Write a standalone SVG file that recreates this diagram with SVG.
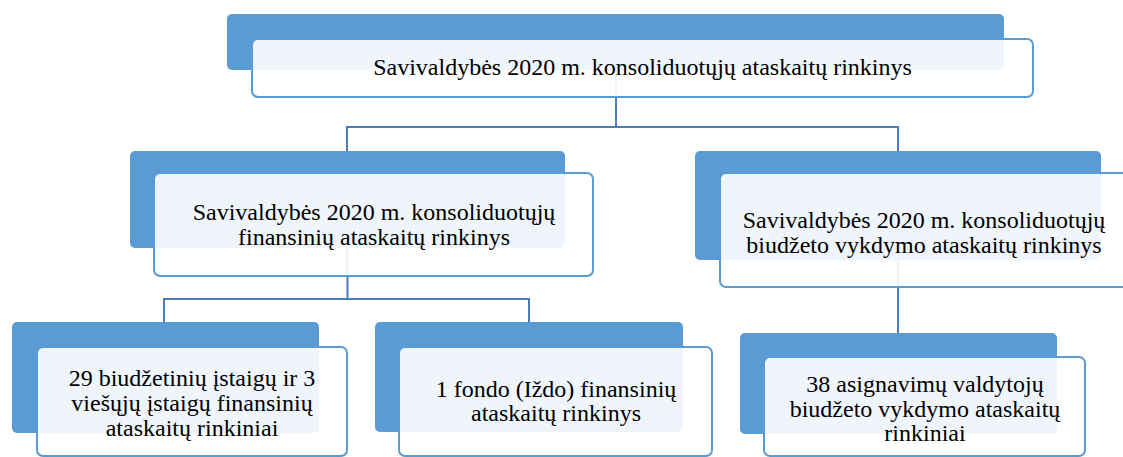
<svg xmlns="http://www.w3.org/2000/svg" width="1123" height="457" viewBox="0 0 1123 457">
<style>
.back{fill:#5B9BD5;}
.front{fill:#FFFFFF;fill-opacity:0.9;stroke:#5B9BD5;stroke-width:2;}
.conn{fill:none;stroke:#4A7EBB;stroke-width:2;}
.t{font-family:"Liberation Serif","Times New Roman",serif;font-size:24px;fill:#000;text-anchor:middle;}
</style>
<rect width="1123" height="457" fill="#FFFFFF"/>
<g id="connectors">
<path class="conn" d="M616,70 V127 M347,151 V127 H898 V151"/>
<path class="conn" d="M347.5,248 V299 M164,322 V299 H529 V322"/>
<path class="conn" d="M898,260 V333"/>
</g>
<g id="node-top">
<rect class="back" x="227" y="14" width="777" height="56" rx="5"/>
<rect class="front" x="252" y="39" width="781" height="58" rx="6"/>
<text class="t" x="642.5" y="75">Savivaldybės 2020 m. konsoliduotųjų ataskaitų rinkinys</text>
</g>
<g id="node-financial">
<rect class="back" x="130" y="151" width="435" height="97" rx="5"/>
<rect class="front" x="154" y="173" width="439" height="103" rx="6"/>
<text class="t" x="374" y="220">Savivaldybės 2020 m. konsoliduotųjų</text>
<text class="t" x="374" y="245">finansinių ataskaitų rinkinys</text>
</g>
<g id="node-budget">
<rect class="back" x="695" y="151" width="406" height="109" rx="5"/>
<rect class="front" x="720" y="173" width="408" height="114" rx="6"/>
<text class="t" x="924" y="228">Savivaldybės 2020 m. konsoliduotųjų</text>
<text class="t" x="924" y="253">biudžeto vykdymo ataskaitų rinkinys</text>
</g>
<g id="node-institutions">
<rect class="back" x="12" y="322" width="307" height="111" rx="5"/>
<rect class="front" x="37" y="347" width="310" height="109" rx="6"/>
<text class="t" x="192" y="386">29 biudžetinių įstaigų ir 3</text>
<text class="t" x="192" y="411">viešųjų įstaigų finansinių</text>
<text class="t" x="192" y="436">ataskaitų rinkiniai</text>
</g>
<g id="node-fund">
<rect class="back" x="375" y="322" width="308" height="110" rx="5"/>
<rect class="front" x="399" y="347" width="313" height="109" rx="6"/>
<text class="t" x="556" y="397">1 fondo (Iždo) finansinių</text>
<text class="t" x="556" y="421">ataskaitų rinkinys</text>
</g>
<g id="node-managers">
<rect class="back" x="740" y="333" width="317" height="101" rx="5"/>
<rect class="front" x="764" y="357" width="321" height="99" rx="6"/>
<text class="t" x="925" y="392">38 asignavimų valdytojų</text>
<text class="t" x="925" y="417">biudžeto vykdymo ataskaitų</text>
<text class="t" x="925" y="441">rinkiniai</text>
</g>
</svg>
